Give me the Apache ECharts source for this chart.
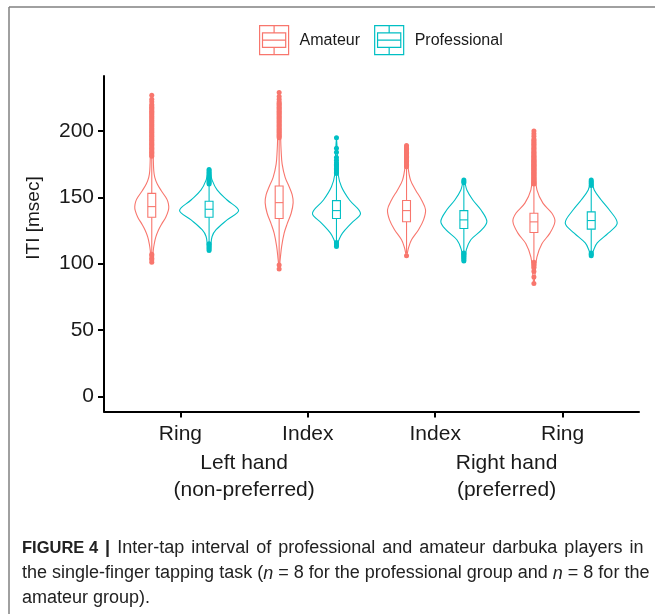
<!DOCTYPE html>
<html>
<head>
<meta charset="utf-8">
<script src="https://cdn.jsdelivr.net/npm/echarts@6/dist/echarts.min.js"></script>
<style>
  html, body { margin: 0; padding: 0; background: #fff; }
  #chart { width: 655px; height: 614px; }
</style>
</head>
<body>
<div id="chart"></div>
<script>
// ---- data -------------------------------------------------------------
const fingers = ['Ring', 'Index', 'Index', 'Ring'];
const hands = ['Left hand\n(non-preferred)', 'Right hand\n(preferred)'];
const handPositions = [1.5, 3.56];
const groups = ['Amateur', 'Professional'];
const yTicks = [0, 50, 100, 150, 200];

// violin outlines: [ITI msec, density]
const amateurLeftRing = [[101,0],[104,1],[110,1.5],[115,2.5],[120,4],[125,6.5],[130,10],[135,14],[140,16.5],[143,17],[147,16],[150,14],[155,9.5],[160,5.5],[165,3],[170,2],[180,1.5],[190,1.2],[200,1.2],[210,1],[220,0.8],[227,0]];
const amateurLeftIndex = [[96,0],[103,1],[113,2.5],[123,5],[130,8],[138,12],[146,14],[152,13],[158,10],[165,6],[175,3],[185,2],[195,1.5],[210,1.2],[222,1],[229,0]];
const amateurRightIndex = [[106,0],[112,2],[118,5],[125.6,12],[133,17],[140.6,19],[148,15],[155.6,9],[163,4],[173,1.5],[182,1],[189.5,0]];
const amateurRightRing = [[85,0],[95,1.5],[105,3],[115,8],[123,16],[131.8,21],[138,18],[145.6,9],[155.6,3],[165,2],[176,2],[190,1.2],[200,0]];
const proLeftRing = [[110,0],[113,1.5],[120.5,3],[125.6,7],[133,18],[140,29.5],[148,18],[155.6,8],[163,3],[171,0]];
const proLeftIndex = [[113,0],[118,2.5],[123,6],[130.6,15],[138,24],[148,13],[158,5],[168,1.5],[180,1],[195.5,0]];
const proRightIndex = [[101.7,0],[104,1.5],[110.5,2.5],[118,7],[125.6,18],[131.8,23],[140.6,17],[148,9],[155.6,3],[163,0]];
const proRightRing = [[105.5,0],[110.5,2.5],[115.6,6],[123,17],[130.6,26],[140.6,18],[148,10],[155.6,3],[163,0]];

// box statistics: [lower whisker, Q1, median, Q3, upper whisker]
const amateurBoxes = [[108,135,143,153,180],[97,134,146,158.6,194],[108,131.6,140,147.6,172],[102,123.5,131.5,138,159]];
const proBoxes = [[116,135,141,147,159],[114,134,140,147.5,167],[106,126.5,133,140,160],[107,126,132.5,139,158]];

// outlying taps
const amateurOutliers = [
  [101,103,104,106,107,181,182,183,184,185,186,187,188,189,190,191,192,193,194,195,196,197,198,199,200,201,202,203,204,205,206,207,208,209,210,211,212,213,214,215,216,217,218,219,220,222,224,227],
  [96,99,195,196,197,198,199,200,201,202,203,204,205,206,207,208,209,210,211,212,213,214,215,216,217,218,219,220,221,222,224,226,229],
  [106,173,174,175,176,177,178,179,180,181,182,183,184,185,186,187,188,189],
  [85,90,94,97,99,101,160,161,162,163,164,165,166,167,168,169,170,171,172,173,174,175,176,177,178,179,180,181,182,183,184,185,186,187,188,189,190,191,192,193,194,196,198,200]
];
const proOutliers = [
  [110,111,112,113,114,115,160,161,162,163,164,165,166,167,168,169,170,171],
  [113,114,115,116,168,169,170,171,172,173,174,175,176,178,180,184,187,195],
  [102,103,104,105,106,107,108,161,162,163],
  [106,107,108,159,160,161,162,163]
];

// ---- drawing ----------------------------------------------------------
const colors = ['#F8766D', '#00BFC4'];
const dodge = [-0.225, 0.225];
const violinScale = 1 / 127.3;   // density -> category units
const boxHalf = 0.031;
const violins = [
  [amateurLeftRing, amateurLeftIndex, amateurRightIndex, amateurRightRing],
  [proLeftRing, proLeftIndex, proRightIndex, proRightRing]
];
const boxes = [amateurBoxes, proBoxes];
const outliers = [amateurOutliers, proOutliers];
const font = 'Liberation Sans, Arial, sans-serif';

function violinRenderer(g) {
  return function (params, api) {
    const i = params.dataIndex;
    const cx = api.value(0) + dodge[g];
    const outline = violins[g][i];
    const right = outline.map(([v, d]) => api.coord([cx + d * violinScale, v]));
    const left = outline.slice(1, -1).reverse().map(([v, d]) => api.coord([cx - d * violinScale, v]));
    const [lo, q1, med, q3, hi] = boxes[g][i];
    const c = colors[g];
    const pLo = api.coord([cx, lo]), pQ1 = api.coord([cx, q1]);
    const pQ3 = api.coord([cx, q3]), pHi = api.coord([cx, hi]);
    const bl = api.coord([cx - boxHalf, q3]), br = api.coord([cx + boxHalf, q1]);
    const ml = api.coord([cx - boxHalf, med]), mr = api.coord([cx + boxHalf, med]);
    const line = { stroke: c, lineWidth: 1.1, fill: null };
    return {
      type: 'group',
      children: [
        { type: 'polygon', shape: { points: right.concat(left), smooth: 0.35 },
          style: { fill: '#fff', stroke: c, lineWidth: 1.1 } },
        { type: 'line', shape: { x1: pQ3[0], y1: pQ3[1], x2: pHi[0], y2: pHi[1] }, style: line },
        { type: 'line', shape: { x1: pQ1[0], y1: pQ1[1], x2: pLo[0], y2: pLo[1] }, style: line },
        { type: 'rect', shape: { x: bl[0], y: bl[1], width: br[0] - bl[0], height: br[1] - bl[1] },
          style: { fill: '#fff', stroke: c, lineWidth: 1.1 } },
        { type: 'line', shape: { x1: ml[0], y1: ml[1], x2: mr[0], y2: mr[1] }, style: line }
      ]
    };
  };
}

const series = [];
groups.forEach((name, g) => {
  series.push({
    name, type: 'custom', color: colors[g],
    itemStyle: { color: colors[g] },
    renderItem: violinRenderer(g),
    data: fingers.map((f, i) => [i + 1]),
    z: 2
  });
});
groups.forEach((name, g) => {
  const pts = [];
  outliers[g].forEach((vals, i) => vals.forEach(v => pts.push([i + 1 + dodge[g], v])));
  series.push({
    name, type: 'scatter', color: colors[g], symbol: 'circle', symbolSize: 5,
    itemStyle: { color: colors[g], opacity: 1 }, data: pts, z: 3, silent: true
  });
});

// caption: first line is justified with slightly wider word gaps
const captionWords = 'Inter-tap interval of professional and amateur darbuka players in'.split(' ');
const captionLine1 = '{b|FIGURE 4}{sp| }{bar||}{sp| }' + captionWords.map(w => '{t|' + w + '}').join('{sp| }');

const legendIcon = 'path://M0,0H30V30H0Z M3,7.5H27V22.5H3Z M3,15H27 M15,0V7.5 M15,22.5V30';
const axisText = { color: '#1a1a1a', fontSize: 21, fontFamily: font };

const chart = echarts.init(document.getElementById('chart'), null, { renderer: 'canvas' });
chart.setOption({
  animation: false,
  backgroundColor: '#fff',
  grid: { left: 104, right: 16, top: 76, bottom: 202.5, containLabel: false },
  legend: {
    data: groups.map((n, g) => ({
      name: n, icon: legendIcon,
      itemStyle: { color: '#fff', borderColor: colors[g], borderWidth: 1.2 }
    })),
    left: 254, top: 20, itemWidth: 29, itemHeight: 29, itemGap: 14,
    textStyle: { fontSize: 16, color: '#1a1a1a', fontFamily: font, padding: [0, 0, 0, 6] },
    selectedMode: false
  },
  xAxis: [
    {
      type: 'value', min: 0.4, max: 4.6,
      axisLine: { show: true, onZero: false, lineStyle: { color: '#000', width: 2 } },
      axisTick: { show: true, customValues: [1, 2, 3, 4], length: 6, lineStyle: { color: '#000', width: 2 } },
      axisLabel: { customValues: [1, 2, 3, 4], formatter: v => fingers[Math.round(v) - 1], margin: 12, ...axisText },
      splitLine: { show: false }
    },
    {
      type: 'value', min: 0.4, max: 4.6, position: 'bottom',
      axisLine: { show: false, onZero: false }, axisTick: { show: false },
      axisLabel: { customValues: handPositions, formatter: v => hands[handPositions.indexOf(v)],
        margin: 38, lineHeight: 27, verticalAlign: 'top', ...axisText },
      splitLine: { show: false }
    }
  ],
  yAxis: {
    type: 'value', min: -11.5, max: 241.5,
    axisLine: { show: true, lineStyle: { color: '#000', width: 2 } },
    axisTick: { show: true, customValues: yTicks, length: 6, lineStyle: { color: '#000', width: 2 } },
    axisLabel: { customValues: yTicks, margin: 10, ...axisText },
    splitLine: { show: false }
  },
  series,
  graphic: [
    { type: 'line', shape: { x1: 9, y1: 7, x2: 655, y2: 7 }, style: { stroke: '#808080', lineWidth: 1.5 } },
    { type: 'line', shape: { x1: 9, y1: 7, x2: 9, y2: 614 }, style: { stroke: '#808080', lineWidth: 1.5 } },
    {
      type: 'text', x: 34, y: 218, rotation: Math.PI / 2,
      style: { text: 'ITI [msec]', fill: '#1a1a1a', fontSize: 19, fontFamily: font, align: 'center', verticalAlign: 'middle' }
    },
    {
      type: 'text', left: 22, top: 536,
      style: {
        text: captionLine1 + '\n' +
              '{t|the single-finger tapping task (}{i|n}{t| = 8 for the professional group and }{i|n}{t| = 8 for the}\n' +
              '{t|amateur group).}',
        fill: '#222', fontSize: 18, lineHeight: 25, fontFamily: font,
        rich: {
          b: { fontWeight: 'bold', fontSize: 16.5, lineHeight: 25, fill: '#222', fontFamily: font },
          bar: { fontWeight: 'bold', fontSize: 18, lineHeight: 25, fill: '#222', fontFamily: font },
          sp: { fontSize: 18, lineHeight: 25, width: 7, fontFamily: font },
          t: { fontSize: 18, lineHeight: 25, fill: '#222', fontFamily: font },
          i: { fontStyle: 'italic', fontSize: 18, lineHeight: 25, fill: '#222', fontFamily: font }
        }
      }
    }
  ]
});
</script>
</body>
</html>
